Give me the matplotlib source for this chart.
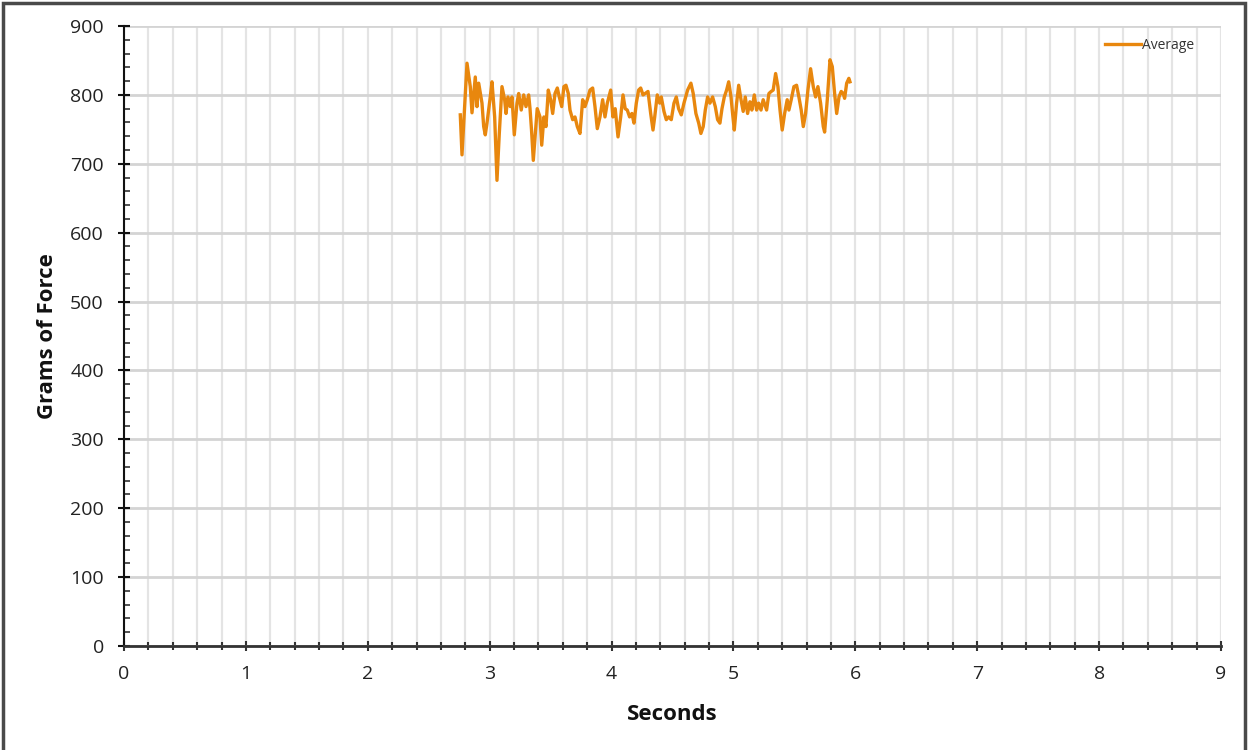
import matplotlib.pyplot as plt
from matplotlib.patches import Rectangle
from matplotlib.ticker import MultipleLocator

# force readings (seconds, grams)
seconds = [
    2.759, 2.773, 2.814, 2.841, 2.855, 2.882, 2.896, 2.910, 2.937, 2.951,
    2.964, 2.978, 3.005, 3.019, 3.041, 3.060, 3.079, 3.101, 3.123, 3.134,
    3.150, 3.169, 3.183, 3.202, 3.224, 3.238, 3.259, 3.279, 3.298, 3.320,
    3.331, 3.343, 3.358, 3.390, 3.413, 3.427, 3.445, 3.462, 3.481, 3.500,
    3.517, 3.536, 3.555, 3.571, 3.591, 3.609, 3.626, 3.645, 3.659, 3.681,
    3.700, 3.719, 3.741, 3.763, 3.782, 3.801, 3.823, 3.845, 3.864, 3.883,
    3.905, 3.927, 3.946, 3.965, 3.993, 4.011, 4.030, 4.053, 4.075, 4.094,
    4.112, 4.129, 4.148, 4.167, 4.184, 4.203, 4.222, 4.239, 4.258, 4.276,
    4.299, 4.321, 4.340, 4.354, 4.375, 4.395, 4.408, 4.430, 4.449, 4.468,
    4.490, 4.512, 4.531, 4.550, 4.572, 4.594, 4.624, 4.651, 4.670, 4.692,
    4.715, 4.733, 4.752, 4.769, 4.788, 4.807, 4.829, 4.851, 4.870, 4.889,
    4.906, 4.925, 4.944, 4.961, 4.980, 4.993, 5.007, 5.026, 5.043, 5.062,
    5.080, 5.097, 5.116, 5.135, 5.151, 5.171, 5.190, 5.207, 5.226, 5.244,
    5.272, 5.291, 5.310, 5.326, 5.346, 5.365, 5.382, 5.400, 5.420, 5.441,
    5.455, 5.474, 5.496, 5.518, 5.537, 5.556, 5.573, 5.592, 5.611, 5.633,
    5.655, 5.674, 5.693, 5.715, 5.737, 5.748, 5.770, 5.792, 5.811, 5.830,
    5.847, 5.866, 5.884, 5.901, 5.912, 5.929, 5.947, 5.956,
]
average = [
    771, 713, 846, 812, 774, 826, 783, 817, 788, 754,
    742, 759, 797, 819, 768, 676, 744, 812, 793, 773,
    797, 783, 797, 742, 788, 802, 778, 800, 783, 800,
    780, 750, 705, 780, 768, 727, 768, 754, 807, 793,
    773, 802, 810, 797, 783, 812, 814, 802, 778, 764,
    768, 754, 744, 793, 783, 793, 807, 810, 783, 751,
    768, 793, 768, 788, 807, 768, 780, 739, 768, 800,
    780, 778, 768, 773, 759, 788, 807, 810, 800, 802,
    805, 773, 749, 768, 800, 788, 797, 776, 764, 768,
    764, 788, 797, 780, 771, 788, 807, 817, 802, 773,
    759, 744, 754, 778, 797, 788, 797, 783, 764, 759,
    780, 797, 807, 819, 797, 773, 749, 788, 814, 793,
    776, 797, 773, 790, 778, 800, 778, 788, 778, 793,
    778, 802, 805, 807, 831, 812, 778, 749, 773, 793,
    778, 793, 812, 814, 797, 778, 754, 773, 807, 838,
    812, 797, 812, 788, 754, 746, 793, 851, 841, 802,
    773, 797, 805, 802, 795, 817, 824, 819,
]

plt.rcParams['font.family'] = ['Open Sans', 'DejaVu Sans']

fig = plt.figure(figsize=(12.49, 7.5), dpi=100)
ax = fig.add_axes([124 / 1249, 1 - 646 / 750, 1097 / 1249, 620 / 750])

ax.plot(seconds, average, color='#e8870e', linewidth=2.4, label='Average',
        solid_joinstyle='round')

ax.set_xlim(0, 9)
ax.set_ylim(0, 900)
ax.xaxis.set_major_locator(MultipleLocator(1))
ax.xaxis.set_minor_locator(MultipleLocator(0.2))
ax.yaxis.set_major_locator(MultipleLocator(100))
ax.yaxis.set_minor_locator(MultipleLocator(20))

# grid: light verticals at every 0.2 s, darker horizontals at every 100 g
ax.grid(True, which='both', axis='x', color='#e4e4e4', linewidth=1.6)
ax.grid(True, which='major', axis='y', color='#d4d4d4', linewidth=2.0)
ax.set_axisbelow(True)

for side in ['top', 'right']:
    ax.spines[side].set_visible(False)
ax.spines['left'].set_color('#111111')
ax.spines['bottom'].set_color('#333333')
ax.spines['left'].set_linewidth(1.5)
ax.spines['bottom'].set_linewidth(2.0)

ax.tick_params(axis='x', which='major', direction='inout', length=7, width=1.5,
               pad=10, labelsize=14, labelcolor='#222222', color='#333333')
ax.tick_params(axis='x', which='minor', direction='inout', length=6, width=1.5,
               color='#333333')
ax.tick_params(axis='y', which='major', direction='inout', length=9, width=1.5,
               pad=10, labelsize=14, labelcolor='#222222', color='#111111')
ax.tick_params(axis='y', which='minor', direction='in', length=4, width=1.2,
               color='#333333')

ax.set_xlabel('Seconds', fontsize=16, fontweight='bold', color='#111111')
ax.set_ylabel('Grams of Force', fontsize=16, fontweight='bold', color='#111111')
ax.xaxis.set_label_coords(0.5, -0.111)
ax.xaxis.label.set_va('center')
ax.yaxis.set_label_coords(-0.070, 0.5)
ax.yaxis.label.set_va('center')

ax.legend(loc='center right', bbox_to_anchor=(0.982, 0.969), frameon=False,
          fontsize=10, handlelength=2.6, handletextpad=0.1, borderpad=0,
          labelcolor='#333333')

# dark frame around the whole chart
fig.patches.append(Rectangle((3.5 / 1249, -0.02), (1245 - 3.5) / 1249, 1.02 - 3.5 / 750,
                             transform=fig.transFigure, fill=False,
                             edgecolor='#4a4a4a', linewidth=2.5))

fig.savefig('out.png', dpi=100)
